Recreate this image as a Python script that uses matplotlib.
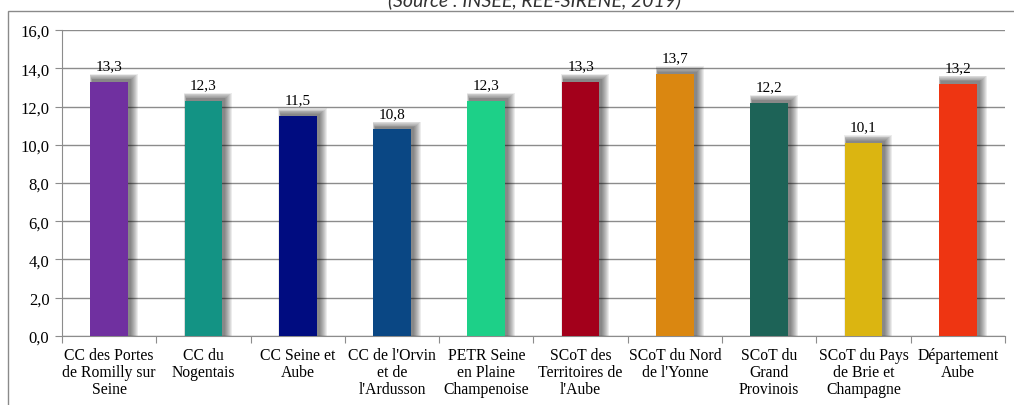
import matplotlib.pyplot as plt
from matplotlib.patches import Rectangle
import numpy as np

categories = [
    "CC des Portes\nde Romilly sur\nSeine",
    "CC du\nNogentais",
    "CC Seine et\nAube",
    "CC de l'Orvin\net de\nl'Ardusson",
    "PETR Seine\nen Plaine\nChampenoise",
    "SCoT des\nTerritoires de\nl'Aube",
    "SCoT du Nord\nde l'Yonne",
    "SCoT du\nGrand\nProvinois",
    "SCoT du Pays\nde Brie et\nChampagne",
    "Département\nAube",
]
values = [13.3, 12.3, 11.5, 10.8, 12.3, 13.3, 13.7, 12.2, 10.1, 13.2]
colors = ["#7030A0", "#139384", "#000C80", "#0A4784", "#1DD088",
          "#A3001B", "#DA8711", "#1D6357", "#DBB511", "#EE3512"]
yticks = [0, 2, 4, 6, 8, 10, 12, 14, 16]

plt.rcParams['font.family'] = ['Liberation Serif', 'DejaVu Serif']

fig = plt.figure(figsize=(10.14, 4.06), dpi=100)
ax = fig.add_axes([0.0611, 0.17, 0.9300, 0.7536])

# outer frame of the chart area
fig.patches.append(Rectangle((8 / 1014, -0.1), 1.2, 1 - 12 / 406 + 0.1,
                             transform=fig.transFigure, fill=False,
                             edgecolor="#8a8a8a", linewidth=1.0))

# source line, clipped at the top of the picture
fig.text(0.527, 1 - 9 / 406, "(Source : INSEE, REE-SIRENE, 2019)",
         ha="center", va="bottom", fontsize=14, style="italic",
         family=["Lato", "DejaVu Sans"], color="#333333")

x = np.arange(len(values))
width = 0.40
px_x = 1 / 94.3
px_y = 16 / 306

# soft drop shadows
for i, v in enumerate(values):
    for k in range(8, 0, -1):
        ax.add_patch(Rectangle((x[i] - width / 2 + 2 * px_x - k * px_x * 0.3,
                                0),
                               width + k * px_x * 1.3,
                               v + 1.5 * px_y + k * px_y * 0.8,
                               facecolor="black", alpha=0.075, linewidth=0,
                               zorder=2))

ax.bar(x, values, width=width, color=colors, zorder=3)

for i, v in enumerate(values):
    ax.text(x[i], v + 0.5, f"{v:.1f}".replace(".", ","), ha="center",
            va="bottom", fontsize=11, zorder=4)

ax.set_xlim(-0.5, len(values) - 0.5)
ax.set_ylim(0, 16)
ax.set_yticks(yticks)
ax.set_yticklabels([f"{t:.1f}".replace(".", ",") for t in yticks], fontsize=12)
ax.yaxis.grid(True, color="#8c8c8c", linewidth=1.0)
ax.set_axisbelow(True)

ax.set_xticks(np.arange(-0.5, len(values), 1.0))
ax.set_xticklabels([])
ax.set_xticks(x, minor=True)
ax.set_xticklabels(categories, minor=True, fontsize=11.3, linespacing=1.1)
ax.tick_params(axis="x", which="minor", length=0, pad=8)
ax.tick_params(axis="x", which="major", length=5, color="#8c8c8c")
ax.tick_params(axis="y", length=5, color="#8c8c8c", pad=4)

for s in ["top", "right"]:
    ax.spines[s].set_visible(False)
for s in ["left", "bottom"]:
    ax.spines[s].set_color("#8c8c8c")

fig.savefig("out.png", dpi=100)
